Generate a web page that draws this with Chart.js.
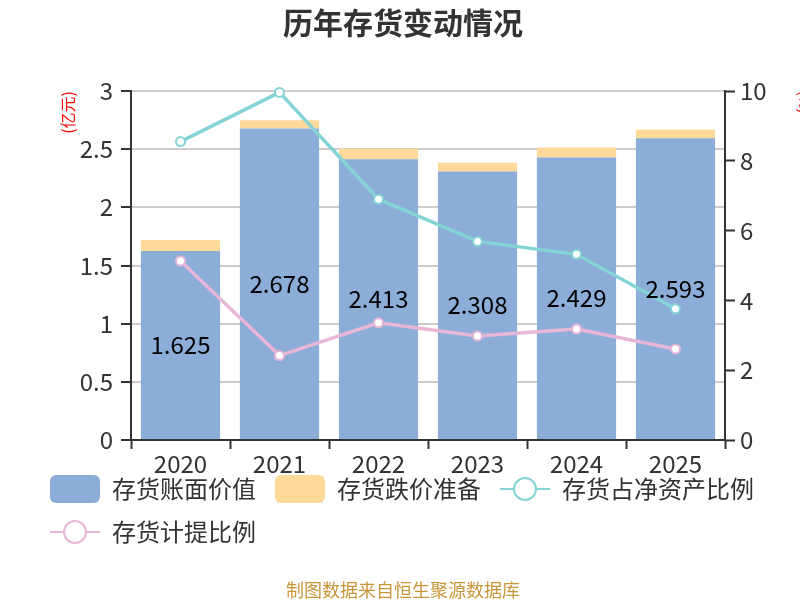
<!DOCTYPE html>
<html>
<head>
<meta charset="utf-8">
<script src="https://cdn.jsdelivr.net/npm/chart.js@4.4.1/dist/chart.umd.min.js"></script>
<style>
  html, body { margin: 0; padding: 0; background: #fff; }
  #wrap { width: 800px; height: 600px; position: relative; }
</style>
</head>
<body>
<div id="wrap"><canvas id="chart"></canvas></div>
<script>
// Values
const years = ['2020', '2021', '2022', '2023', '2024', '2025'];
const bookValue = [1.625, 2.678, 2.413, 2.308, 2.429, 2.593];     // 亿元
const provision = [0.095, 0.07, 0.09, 0.075, 0.085, 0.075];       // 亿元
const netAssetRatio = [8.55, 9.96, 6.9, 5.69, 5.32, 3.76];        // %
const provisionRatio = [5.13, 2.42, 3.36, 2.98, 3.18, 2.61];      // %

const FONT = '"Noto Sans CJK SC", "Noto Sans", sans-serif';
const BLUE = '#8dadd9';
const ORANGE = '#ffd99a';
const CYAN = '#84d3d5';
const PINK = '#e8b6d7';

// Legend icons (box for bars, line with circle for lines)
function boxIcon(color) {
    const c = document.createElement('canvas');
    c.width = 50; c.height = 28;
    const g = c.getContext('2d');
    g.fillStyle = color;
    g.beginPath();
    g.roundRect(0, 0, 50, 28, 6);
    g.fill();
    return c;
}

function lineIcon(color) {
    const c = document.createElement('canvas');
    c.width = 50; c.height = 28;
    const g = c.getContext('2d');
    g.strokeStyle = color;
    g.lineWidth = 2;
    g.beginPath();
    g.moveTo(0, 14);
    g.lineTo(50, 14);
    g.stroke();
    g.beginPath();
    g.arc(25, 14, 11, 0, Math.PI * 2);
    g.fillStyle = '#fff';
    g.fill();
    g.stroke();
    return c;
}

const icons = [boxIcon(BLUE), boxIcon(ORANGE), lineIcon(CYAN), lineIcon(PINK)];

// Values in the middle of the blue bars
const barLabels = {
    id: 'barLabels',
    afterDatasetsDraw(chart) {
        const meta = chart.getDatasetMeta(0);
        const ctx = chart.ctx;
        ctx.save();
        ctx.font = '24px ' + FONT;
        ctx.fillStyle = '#000';
        ctx.textAlign = 'center';
        ctx.textBaseline = 'middle';
        meta.data.forEach((bar, i) => {
            ctx.fillText(bookValue[i].toFixed(3), bar.x, (bar.y + bar.base) / 2);
        });
        ctx.restore();
    }
};

// Legend sits tight under the year labels
const legendShift = {
    id: 'legendShift',
    afterLayout(chart) {
        chart.legend.top -= 21;
        chart.legend.bottom -= 21;
    }
};

const tickFont = { family: FONT, size: 24, lineHeight: 1 };

new Chart(document.getElementById('chart'), {
    data: {
        labels: years,
        datasets: [
            {
                type: 'bar',
                label: '存货账面价值',
                data: bookValue,
                backgroundColor: BLUE,
                stack: 'inv',
                yAxisID: 'y',
                order: 2,
                barPercentage: 0.8,
                categoryPercentage: 1
            },
            {
                type: 'bar',
                label: '存货跌价准备',
                data: provision,
                backgroundColor: ORANGE,
                stack: 'inv',
                yAxisID: 'y',
                order: 2,
                barPercentage: 0.8,
                categoryPercentage: 1
            },
            {
                type: 'line',
                label: '存货占净资产比例',
                data: netAssetRatio,
                borderColor: CYAN,
                borderWidth: 3.5,
                pointRadius: 4.5,
                pointBorderWidth: 2,
                pointBackgroundColor: '#fff',
                pointBorderColor: CYAN,
                yAxisID: 'y1',
                order: 1,
                clip: false
            },
            {
                type: 'line',
                label: '存货计提比例',
                data: provisionRatio,
                borderColor: PINK,
                borderWidth: 3.5,
                pointRadius: 4.5,
                pointBorderWidth: 2,
                pointBackgroundColor: '#fff',
                pointBorderColor: PINK,
                yAxisID: 'y1',
                order: 1,
                clip: false
            }
        ]
    },
    options: {
        responsive: true,
        maintainAspectRatio: false,
        animation: false,
        layout: { padding: { left: 31, right: 25, top: 0, bottom: 1 } },
        plugins: {
            title: {
                display: true,
                text: '历年存货变动情况',
                color: '#333',
                font: { family: FONT, size: 30, weight: 'bold' },
                padding: { top: 5, bottom: 50 }
            },
            subtitle: {
                display: true,
                position: 'bottom',
                text: '制图数据来自恒生聚源数据库',
                color: '#c8963a',
                font: { family: FONT, size: 18, lineHeight: 1 },
                padding: { top: 6, bottom: 0 }
            },
            legend: {
                position: 'bottom',
                align: 'start',
                labels: {
                    usePointStyle: true,
                    pointStyleWidth: 50,
                    padding: 19,
                    color: '#333',
                    font: { family: FONT, size: 24 },
                    generateLabels(chart) {
                        return chart.data.datasets.map((ds, i) => ({
                            text: ds.label,
                            pointStyle: icons[i],
                            fontColor: '#333',
                            hidden: !chart.isDatasetVisible(i),
                            datasetIndex: i,
                            lineWidth: 0
                        }));
                    }
                }
            },
            tooltip: { enabled: false }
        },
        scales: {
            x: {
                stacked: true,
                grid: {
                    offset: true,
                    drawOnChartArea: false,
                    tickLength: 9,
                    tickColor: '#333',
                    tickWidth: 2
                },
                border: { color: '#333', width: 2 },
                ticks: { color: '#333', font: tickFont, padding: 3 }
            },
            y: {
                stacked: true,
                position: 'left',
                min: 0,
                max: 3,
                afterFit(scale) { scale.width = 100; },
                title: {
                    display: true,
                    text: '(亿元)',
                    color: 'red',
                    align: 'end',
                    font: { family: FONT, size: 16 },
                    padding: { top: 27, bottom: 0 }
                },
                grid: {
                    color: '#cccccc',
                    lineWidth: 2,
                    tickLength: 10,
                    tickColor: '#333',
                    tickWidth: 2
                },
                border: { color: '#333', width: 2 },
                ticks: {
                    stepSize: 0.5,
                    color: '#333',
                    font: tickFont,
                    padding: 8,
                    callback: v => String(+v.toFixed(2))
                }
            },
            y1: {
                position: 'right',
                min: 0,
                max: 10,
                afterFit(scale) { scale.width = 50; },
                title: {
                    display: true,
                    text: '(%)',
                    color: 'red',
                    align: 'end',
                    font: { family: FONT, size: 14 },
                    padding: { top: -38, bottom: 0 }
                },
                grid: {
                    drawOnChartArea: false,
                    tickLength: 10,
                    tickColor: '#333',
                    tickWidth: 2
                },
                border: { color: '#333', width: 2 },
                ticks: {
                    stepSize: 2,
                    color: '#333',
                    font: tickFont,
                    padding: 5
                }
            }
        }
    },
    plugins: [barLabels, legendShift]
});
</script>
</body>
</html>
